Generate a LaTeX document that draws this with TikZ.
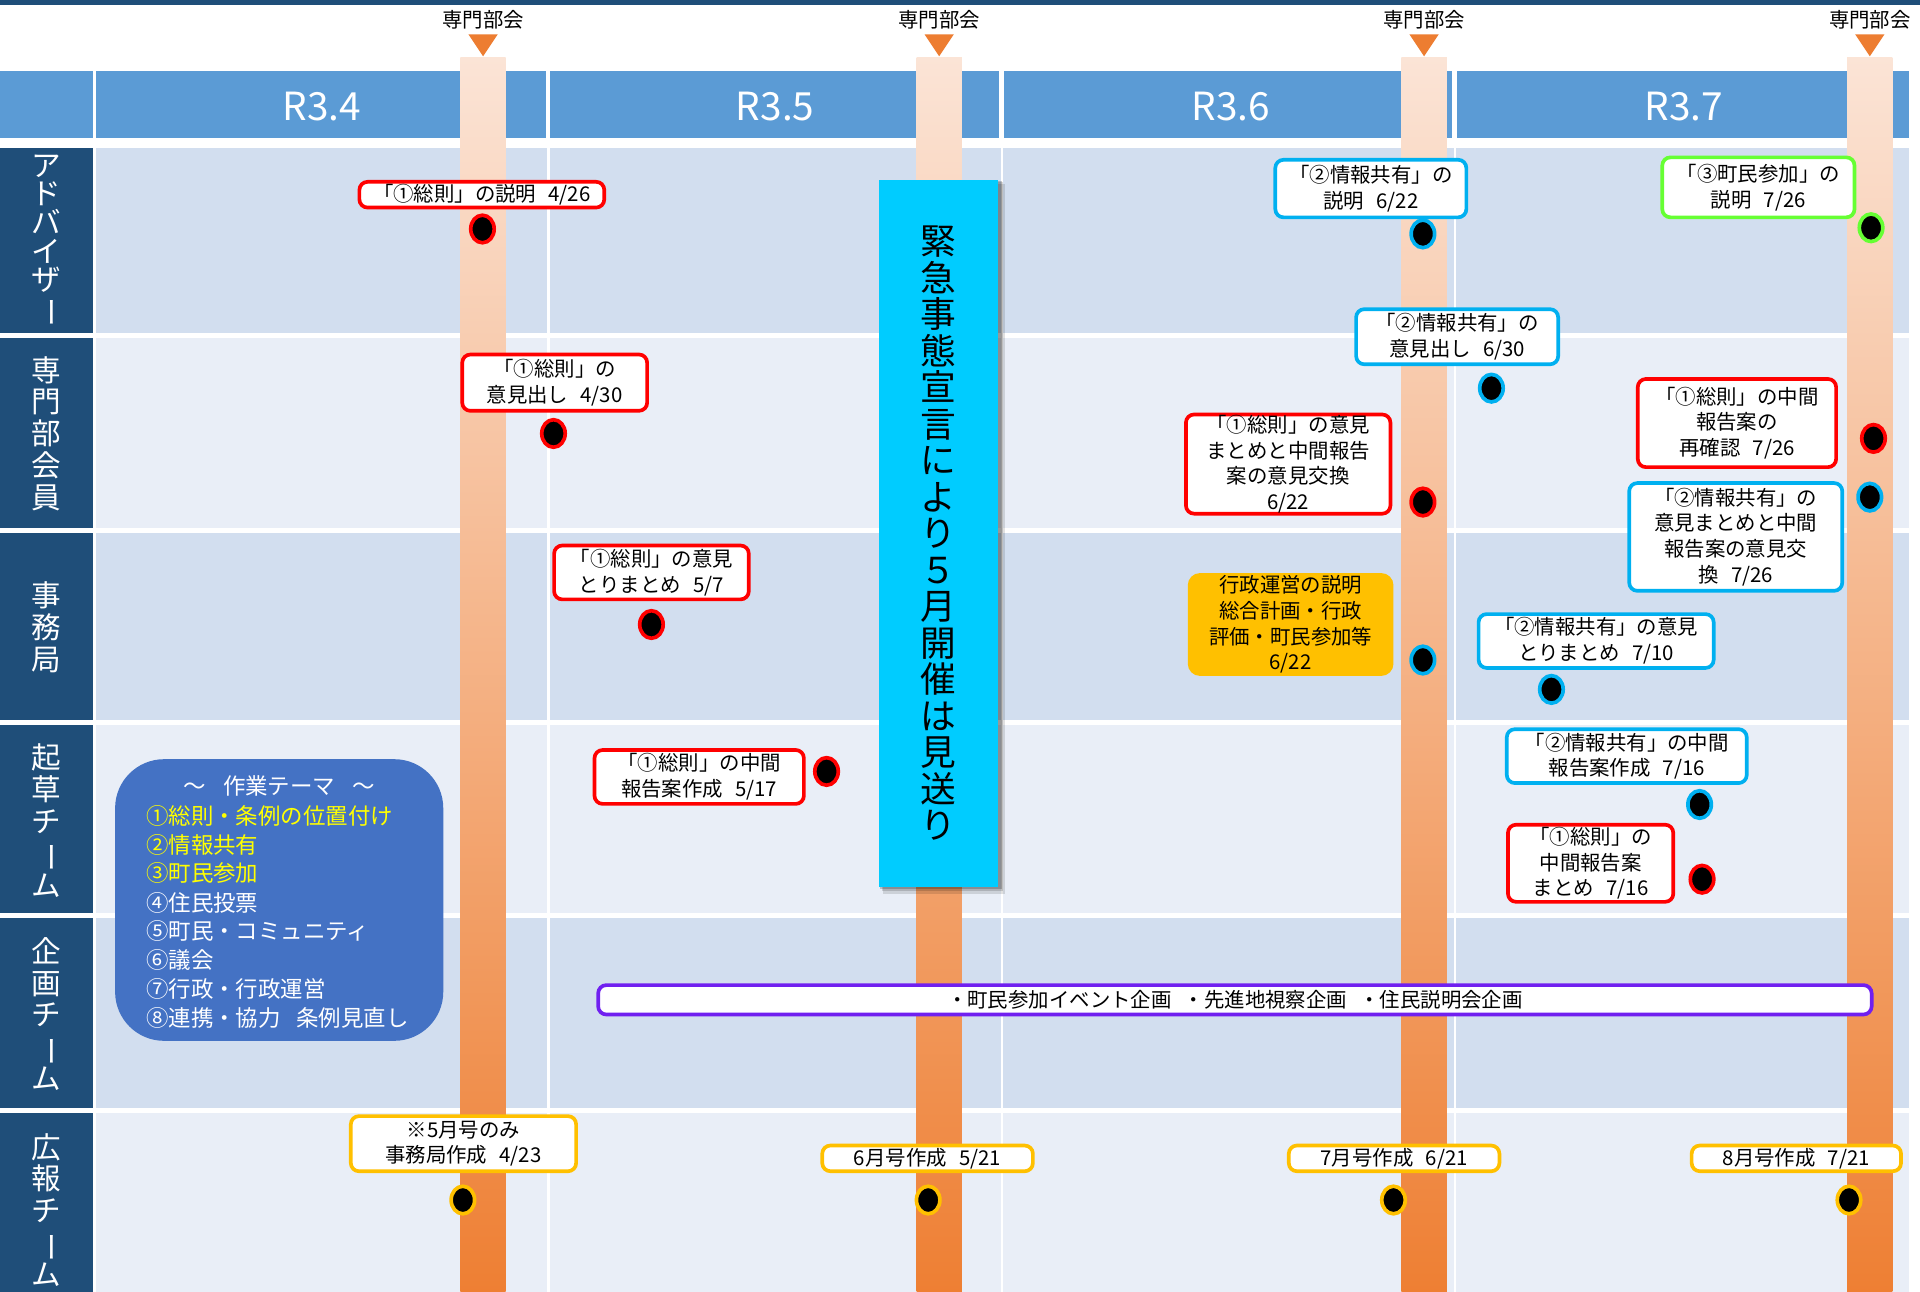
\documentclass[tikz,border=0pt]{standalone}
\usepackage{fontspec}
\usepackage{graphicx}
\setmainfont{Noto Sans CJK JP}
\usetikzlibrary{shapes.geometric}
\definecolor{navy}{HTML}{1F4E79}
\definecolor{hdrblue}{HTML}{5B9BD5}
\definecolor{rowdark}{HTML}{D2DEEF}
\definecolor{rowlight}{HTML}{E9EEF7}
\definecolor{bartop}{HTML}{FBE4D6}
\definecolor{barmid}{HTML}{F8CBAD}
\definecolor{barbot}{HTML}{EE7F33}
\definecolor{tri}{HTML}{ED7D31}
\definecolor{cred}{HTML}{FF0000}
\definecolor{cblue}{HTML}{00B0F0}
\definecolor{cgreen}{HTML}{66FF33}
\definecolor{cyellow}{HTML}{FFC000}
\definecolor{cpurple}{HTML}{7020F0}
\definecolor{ccyan}{HTML}{00CCFF}
\definecolor{theme}{HTML}{4472C4}
\definecolor{tyellow}{HTML}{FFFF00}
\newcommand\jgap{\hspace{0.6em}}
\newcommand\vlong{\rotatebox[origin=c]{-90}{ー}}
\tikzset{
  sz/.style 2 args={minimum width=#1*0.6pt, minimum height=#2*0.6pt},
  ebox/.style={draw=#1, line width=1.8pt, rounded corners=4pt, fill=white, align=center,
    inner sep=0pt, text=black, font=\fontsize{10}{12.6}\selectfont},
  dot/.style={ellipse, fill=black, draw=#1, line width=1.8pt, minimum width=11.5pt,
    minimum height=13.5pt, inner sep=0pt},
  lab/.style={text=white, align=center, inner sep=0pt, font=\fontsize{14.5}{15.6}\selectfont},
  month/.style={text=white, inner sep=0pt, font=\fontsize{19}{22}\selectfont},
  meet/.style={text=black, inner sep=0pt, font=\fontsize{10}{12}\selectfont},
  thline/.style={anchor=base west, inner sep=0pt, font=\fontsize{11}{14}\selectfont, text=#1},
}
\begin{document}
\begin{tikzpicture}[x=0.6pt,y=-0.6pt]
\useasboundingbox (0,0) rectangle (1568,1055);
\fill[white] (0,0) rectangle (1568,1055);
% top bar
\fill[navy] (0,0) rectangle (1568,4);
% header
\fill[hdrblue] (0,58) rectangle (76,113);
\fill[hdrblue] (78,58) rectangle (446,113);
\fill[hdrblue] (449,58) rectangle (816,113);
\fill[hdrblue] (820,58) rectangle (1186,113);
\fill[hdrblue] (1190,58) rectangle (1559,113);
% rows
\fill[rowdark]  (78,121) rectangle (1559,272);
\fill[rowlight] (78,276) rectangle (1559,431);
\fill[rowdark]  (78,435) rectangle (1559,588);
\fill[rowlight] (78,592) rectangle (1559,746);
\fill[rowdark]  (78,750) rectangle (1559,905);
\fill[rowlight] (78,909) rectangle (1559,1055);
\fill[navy] (0,121) rectangle (76,272);
\fill[navy] (0,276) rectangle (76,431);
\fill[navy] (0,435) rectangle (76,588);
\fill[navy] (0,592) rectangle (76,746);
\fill[navy] (0,750) rectangle (76,905);
\fill[navy] (0,909) rectangle (76,1055);
% month separators
\foreach \xx in {448,818,1188} \draw[white, line width=1.1pt] (\xx,121) -- (\xx,1055);
% gradient bars
\foreach \xx in {394.5,767,1163,1527}
  \shade[top color=bartop, middle color=barmid, bottom color=barbot] (\xx-18.5,47) rectangle (\xx+18.5,1055);
% triangles and labels
\foreach \xx/\nm in {394.5/m1,767/m2,1163/m3,1527/m4}{
  \fill[tri] (\xx-12,28) -- (\xx+12,28) -- (\xx,46) -- cycle;
  \node[meet] (\nm) at (\xx,16) {専門部会};
}
% months
\node[month] (r34) at (263,87) {R3.4};
\node[month] (r35) at (633,87) {R3.5};
\node[month] (r36) at (1005,87) {R3.6};
\node[month] (r37) at (1375,87) {R3.7};
% row labels
\node[lab, font=\fontsize{14.5}{14}\selectfont] (l1) at (38,197) {ア\\ド\\バ\\イ\\ザ\\\vlong};
\node[lab] (l2) at (38,354) {専\\門\\部\\会\\員};
\node[lab] (l3) at (38,512) {事\\務\\局};
\node[lab] (l4) at (38,670) {起\\草\\チ\\\vlong\\ム};
\node[lab] (l5) at (38,828) {企\\画\\チ\\\vlong\\ム};
\node[lab] (l6) at (38,988) {広\\報\\チ\\\vlong\\ム};
% emergency box
\fill[black, opacity=0.12] (721,150) rectangle (821,730);
\fill[black, opacity=0.15] (720,149) rectangle (819,728);
\fill[black, opacity=0.2] (719,148) rectangle (818,726);
\node[fill=ccyan, sz={97}{577}, inner sep=0pt, align=center, text=black,
  font=\fontsize{17.5}{17.9}\selectfont] (emg) at (766.5,435.5)
  {緊\\急\\事\\態\\宣\\言\\に\\よ\\り\\５\\月\\開\\催\\は\\見\\送\\り};
% theme box
\node[fill=theme, rounded corners=24pt, sz={268}{230}] (theme) at (228,735) {};
\node[text=white, inner sep=0pt, font=\fontsize{11}{14}\selectfont] (tht) at (228,642) {～\hspace{0.75em}作業テーマ\hspace{0.75em}～};
\node[thline=tyellow] (th1) at (119,673) {①総則・条例の位置付け};
\node[thline=tyellow] (th2) at (119,697) {②情報共有};
\node[thline=tyellow] (th3) at (119,720) {③町民参加};
\node[thline=white] (th4) at (119,744) {④住民投票};
\node[thline=white] (th5) at (119,767) {⑤町民・コミュニティ};
\node[thline=white] (th6) at (119,791) {⑥議会};
\node[thline=white] (th7) at (119,815) {⑦行政・行政運営};
\node[thline=white] (th8) at (119,838) {⑧連携・協力\hspace{0.7em}条例見直し};
% boxes row 1
\node[ebox=cred, sz={200}{21}] (r1a) at (393.5,159) {「①総則」の説明\jgap 4/26};
\node[ebox=cblue, sz={156}{47}] (b1) at (1119.5,154) {「②情報共有」の\\説明\jgap 6/22};
\node[ebox=cgreen, sz={157}{49}] (g1) at (1436,153) {「③町民参加」の\\説明\jgap 7/26};
% row 2
\node[ebox=cred, sz={151}{46}] (r2a) at (453,312.5) {「①総則」の\\意見出し\jgap 4/30};
\node[ebox=cblue, sz={165}{45}] (b2a) at (1190,275) {「②情報共有」の\\意見出し\jgap 6/30};
\node[ebox=cred, sz={167}{81}] (r2b) at (1052,379) {「①総則」の意見\\まとめと中間報告\\案の意見交換\\6/22};
\node[ebox=cred, sz={162}{72}] (r2c) at (1418.5,345.5) {「①総則」の中間\\報告案の\\再確認\jgap 7/26};
\node[ebox=cblue, sz={174}{88}] (b2b) at (1417.5,438.5) {「②情報共有」の\\意見まとめと中間\\報告案の意見交\\換\jgap 7/26};
% row 3
\node[ebox=cred, sz={159}{44}] (r3a) at (532,467.5) {「①総則」の意見\\とりまとめ\jgap 5/7};
\node[fill=cyellow, rounded corners=6pt, sz={168}{84}, inner sep=0pt, align=center, text=black,
  font=\fontsize{10}{12.6}\selectfont] (o3) at (1054,510) {行政運営の説明\\総合計画・行政\\評価・町民参加等\\6/22};
\node[ebox=cblue, sz={192}{44}] (b3) at (1303.5,523.5) {「②情報共有」の意見\\とりまとめ\jgap 7/10};
% row 4
\node[ebox=cred, sz={171}{44}] (r4a) at (571,634.5) {「①総則」の中間\\報告案作成\jgap 5/17};
\node[ebox=cblue, sz={196}{44}] (b4a) at (1328.5,617.5) {「②情報共有」の中間\\報告案作成\jgap 7/16};
\node[ebox=cred, sz={135}{63}] (r4b) at (1299,705) {「①総則」の\\中間報告案\\まとめ\jgap 7/16};
% row 5
\node[ebox=cpurple, sz={1040}{24}] (p5) at (1008.5,816.5) {・町民参加イベント企画\jgap ・先進地視察企画\jgap ・住民説明会企画};
% row 6
\node[ebox=cyellow, sz={184}{45}] (y6a) at (378.5,934) {※5月号のみ\\事務局作成\jgap 4/23};
\node[ebox=cyellow, sz={172}{21}] (y6b) at (757.5,946) {6月号作成\jgap 5/21};
\node[ebox=cyellow, sz={172}{21}] (y6c) at (1138.5,946) {7月号作成\jgap 6/21};
\node[ebox=cyellow, sz={171}{21}] (y6d) at (1467,946) {8月号作成\jgap 7/21};
% dots
\node[dot=cred] (d1) at (394,187) {};
\node[dot=cblue] (d2) at (1162,191) {};
\node[dot=cgreen] (d3) at (1528,186) {};
\node[dot=cred] (d4) at (452,354) {};
\node[dot=cblue] (d5) at (1218,317) {};
\node[dot=cred] (d6) at (1162,410) {};
\node[dot=cred] (d7) at (1530,358) {};
\node[dot=cblue] (d8) at (1527,406) {};
\node[dot=cred] (d9) at (532,510) {};
\node[dot=cblue] (d10) at (1162,539) {};
\node[dot=cblue] (d11) at (1267,563) {};
\node[dot=cred] (d12) at (675,630) {};
\node[dot=cblue] (d13) at (1388,657) {};
\node[dot=cred] (d14) at (1390,718) {};
\node[dot=cyellow] (d15) at (378,980) {};
\node[dot=cyellow] (d16) at (758,980) {};
\node[dot=cyellow] (d17) at (1138,980) {};
\node[dot=cyellow] (d18) at (1510,980) {};
\end{tikzpicture}
\end{document}
